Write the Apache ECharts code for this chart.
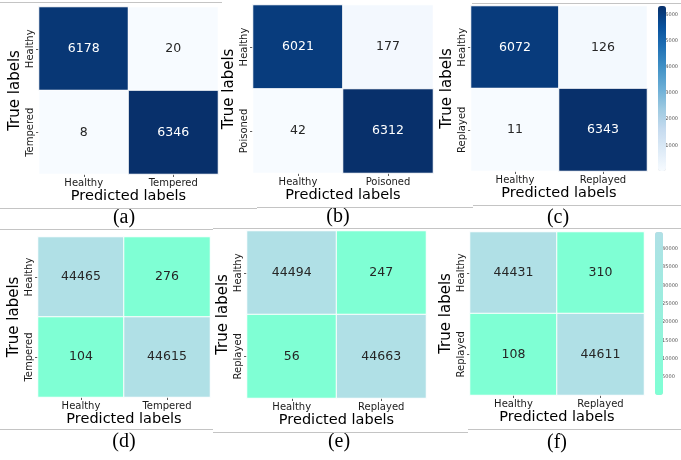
<!DOCTYPE html>
<html>
<head>
<meta charset="utf-8">
<script src="https://cdn.jsdelivr.net/npm/echarts@6/dist/echarts.min.js"></script>
<style>
  html, body { margin: 0; padding: 0; background: #fff; }
  #chart { width: 681px; height: 460px; }
</style>
</head>
<body>
<div id="chart"></div>
<script>
// Class names of each confusion matrix (rows = true class, columns = predicted class)
const labelsA = ['Healthy', 'Tempered'];
const labelsB = ['Healthy', 'Poisoned'];
const labelsC = ['Healthy', 'Replayed'];
const labelsD = ['Healthy', 'Tempered'];
const labelsE = ['Healthy', 'Replayed'];
const labelsF = ['Healthy', 'Replayed'];

// Counts, one row per true class
const countsA = [[6178, 20], [8, 6346]];
const countsB = [[6021, 177], [42, 6312]];
const countsC = [[6072, 126], [11, 6343]];
const countsD = [[44465, 276], [104, 44615]];
const countsE = [[44494, 247], [56, 44663]];
const countsF = [[44431, 310], [108, 44611]];

const captions = ['(a)', '(b)', '(c)', '(d)', '(e)', '(f)'];

// Tick values on the two colour bars
const barTicksTop = [1000, 2000, 3000, 4000, 5000, 6000];
const barTicksBottom = [5000, 10000, 15000, 20000, 25000, 30000, 35000, 40000];

const FONT = 'DejaVu Sans';
const BLUES = ['#f7fbff', '#deebf7', '#c6dbef', '#9ecae1', '#6baed6', '#4292c6', '#2171b5', '#08519c', '#08306b'];
const MINT = ['#7fffd4', '#b0e0e6'];

// Layout of each panel: heat-map rectangle [left, top, width, height], caption centre
const panels = [
  { labels: labelsA, counts: countsA, rect: [39, 7, 179, 167],  cap: [124, 218], pal: BLUES, dark: true },
  { labels: labelsB, counts: countsB, rect: [253, 5, 180, 168], cap: [338, 217], pal: BLUES, dark: true },
  { labels: labelsC, counts: countsC, rect: [471, 6, 176, 165], cap: [558, 218], pal: BLUES, dark: true,
    bar: { rect: [658, 6, 8, 165], ticks: barTicksTop } },
  { labels: labelsD, counts: countsD, rect: [38, 237, 172, 160], cap: [124, 442], pal: MINT, dark: false },
  { labels: labelsE, counts: countsE, rect: [247, 231, 179, 167], cap: [339, 442], pal: MINT, dark: false },
  { labels: labelsF, counts: countsF, rect: [470, 232, 174, 163], cap: [557, 443], pal: MINT, dark: false,
    bar: { rect: [655, 232, 8, 163], ticks: barTicksBottom } }
];

const grid = [], xAxis = [], yAxis = [], series = [], visualMap = [], graphic = [];

panels.forEach((p, i) => {
  const flat = p.counts.flat();
  const vmin = Math.min(...flat), vmax = Math.max(...flat);
  const [l, t, w, h] = p.rect;
  const gi = grid.length;
  grid.push({ left: l, top: t, width: w, height: h, containLabel: false });
  xAxis.push({
    type: 'category', gridIndex: gi, data: p.labels, position: 'bottom',
    axisLine: { show: false },
    axisTick: { show: true, alignWithLabel: true, length: 3, lineStyle: { color: '#333', width: 0.8 } },
    axisLabel: { fontFamily: FONT, fontSize: 10, color: '#1a1a1a', margin: 4 },
    splitLine: { show: false },
    name: 'Predicted labels', nameLocation: 'middle', nameGap: 15,
    nameTextStyle: { fontFamily: FONT, fontSize: 14.5, color: '#000' }
  });
  yAxis.push({
    type: 'category', gridIndex: gi, data: p.labels, inverse: true,
    axisLine: { show: false },
    axisTick: { show: true, alignWithLabel: true, length: 3, lineStyle: { color: '#333', width: 0.8 } },
    axisLabel: { fontFamily: FONT, fontSize: 10, color: '#1a1a1a', rotate: 90, margin: 4 },
    splitLine: { show: false },
    name: 'True labels', nameLocation: 'middle', nameGap: 16,
    nameTextStyle: { fontFamily: FONT, fontSize: 15, color: '#000' }
  });
  const data = [];
  p.counts.forEach((row, r) => row.forEach((v, c) => {
    const frac = (v - vmin) / (vmax - vmin);
    data.push({
      value: [c, r, v],
      label: { color: p.dark && frac > 0.5 ? '#ffffff' : '#262626' }
    });
  }));
  const si = series.length;
  series.push({
    type: 'heatmap', xAxisIndex: gi, yAxisIndex: gi, data,
    itemStyle: { borderColor: '#ffffff', borderWidth: 1 },
    label: { show: true, fontFamily: FONT, fontSize: 12.5, formatter: (d) => String(d.value[2]) },
    emphasis: { disabled: true },
    silent: true
  });
  const vm = {
    type: 'continuous', seriesIndex: si, dimension: 2, min: vmin, max: vmax,
    inRange: { color: p.pal }, show: false, calculable: false
  };
  if (p.bar) {
    const [bl, bt, bw, bh] = p.bar.rect;
    Object.assign(vm, {
      show: true, left: bl, top: bt, itemWidth: bw, itemHeight: bh,
      orient: 'vertical', padding: 0, text: null, showLabel: false
    });
    // value axis drawn beside the colour bar
    const bi = grid.length;
    grid.push({ left: bl, top: bt, width: bw, height: bh });
    xAxis.push({ type: 'value', gridIndex: bi, show: false });
    yAxis.push({
      type: 'value', gridIndex: bi, position: 'right', min: vmin, max: vmax,
      axisLine: { show: false },
      axisTick: { show: true, length: 2, lineStyle: { color: '#666', width: 0.6 }, customValues: p.bar.ticks },
      axisLabel: { fontFamily: FONT, fontSize: 5, color: '#555', margin: 2, customValues: p.bar.ticks,
                   formatter: (v) => String(v) },
      splitLine: { show: false }
    });
  }
  visualMap.push(vm);
  graphic.push({
    type: 'text', x: p.cap[0], y: p.cap[1],
    style: { text: captions[i], font: '20px "Liberation Serif"', fill: '#000', align: 'center', verticalAlign: 'middle' }
  });
});

// Thin frame rules separating the sub-figures
const rules = [
  [0, 2, 222, 2], [472, 3, 681, 3],
  [0, 208, 257, 208], [257, 207, 473, 207], [473, 205, 681, 205],
  [0, 229, 213, 229], [213, 228, 468, 228], [468, 228, 681, 228],
  [0, 429, 213, 429], [213, 432, 468, 432], [468, 429, 681, 429]
];
rules.forEach(([x1, y1, x2, y2]) => graphic.push({
  type: 'line', shape: { x1, y1: y1 + 0.5, x2, y2: y2 + 0.5 },
  style: { stroke: '#c4c4c4', lineWidth: 1 }, silent: true
}));

const chart = echarts.init(document.getElementById('chart'), null, { renderer: 'canvas' });
chart.setOption({
  animation: false,
  backgroundColor: '#ffffff',
  grid, xAxis, yAxis, series, visualMap, graphic
});
</script>
</body>
</html>
